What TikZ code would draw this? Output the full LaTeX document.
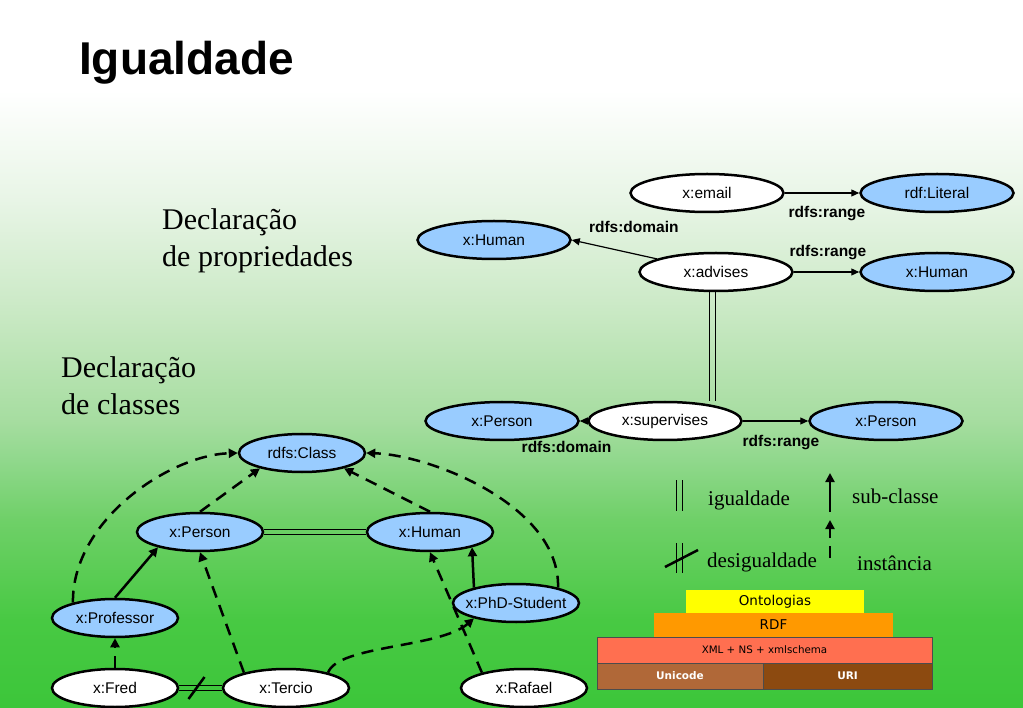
\documentclass[tikz,border=0pt]{standalone}
\usepackage{fontspec}
\setmainfont{Liberation Serif}
\setsansfont{Liberation Sans}
\newfontfamily\stackfont{DejaVu Sans}
\usetikzlibrary{calc,shapes.geometric,arrows.meta}

\definecolor{clsblue}{HTML}{99CCFF}
\definecolor{ontoyellow}{HTML}{FFFF00}
\definecolor{rdforange}{HTML}{FF9900}
\definecolor{xmlred}{HTML}{FF6F50}
\definecolor{unibrown}{HTML}{B06838}
\definecolor{uribrown}{HTML}{8C4A10}
\definecolor{bg0}{HTML}{3CC63A}
\definecolor{bg1}{HTML}{48C943}
\definecolor{bg2}{HTML}{6FD068}
\definecolor{bg3}{HTML}{90D88C}
\definecolor{bg4}{HTML}{A6DDA0}
\definecolor{bg5}{HTML}{CDEAC8}
\definecolor{bg6}{HTML}{E8F5E6}
\pgfdeclareverticalshading{slidebg}{100bp}{color(0bp)=(bg0); color(25bp)=(bg0);
  color(31.2bp)=(bg1); color(38.3bp)=(bg2); color(42.5bp)=(bg3); color(45.3bp)=(bg4);
  color(53.8bp)=(bg5); color(60.9bp)=(bg6); color(68.6bp)=(white); color(100bp)=(white)}

\begin{document}
\begin{tikzpicture}
[x=1pt,y=-1pt,
 cls/.style={ellipse,draw,line width=2.5pt,fill=clsblue,minimum width=126pt,minimum height=38pt,
   inner sep=0pt,font=\sffamily\fontsize{15.5}{18}\selectfont},
 ind/.style={cls,fill=white},
 wide/.style={minimum width=153pt},
 rel/.style={line width=1.2pt,-{Triangle[length=8pt,width=7pt]}},
 subc/.style={line width=2.5pt,-{Triangle[length=9pt,width=9pt]}},
 isa/.style={subc,dash pattern=on 12pt off 8pt},
 eqline/.style={line width=1pt},
 lab/.style={inner sep=0pt,font=\sffamily\bfseries\fontsize{15.5}{18}\selectfont},
 legend/.style={anchor=base west,inner sep=0pt,font=\fontsize{21}{25}\selectfont},
 heading/.style={anchor=base west,inner sep=0pt,align=left,font=\fontsize{30}{37}\selectfont},
 stackbox/.style={inner sep=0pt,font=\stackfont\fontsize{13.5}{16}\selectfont}]

\fill[shading=slidebg] (0,0) rectangle (1023,708);
\useasboundingbox (0,0) rectangle (1023,708);

\node (title) at (79,75) [anchor=base west,inner sep=0pt,font=\sffamily\bfseries\fontsize{46}{50}\selectfont] {Igualdade};
\node (dprop) at (162,267) [heading] {Declaração\\de propriedades};
\node (dcls) at (61,415) [heading] {Declaração\\de classes};

\node (email) at (707,193) [ind,wide] {x:email};
\node (literal) at (937,193) [cls,wide] {rdf:Literal};
\node (humanP) at (494,240) [cls,wide] {x:Human};
\node (advises) at (716,272) [ind,wide] {x:advises};
\node (humanR) at (937,272) [cls,wide] {x:Human};
\node (personP) at (502,421) [cls,wide] {x:Person};
\node (supervises) at (665,421) [ind,wide] {x:supervises};
\node (personR) at (886,421) [cls,wide] {x:Person};

\draw[rel] (email) -- (literal) node[lab,midway,xshift=5pt,yshift=-21pt]{rdfs:range};
\draw[rel] (advises) -- (humanP.east) node[lab,midway,xshift=19.5pt,yshift=22.5pt]{rdfs:domain};
\draw[rel] (advises) -- (humanR) node[lab,midway,xshift=1.5pt,yshift=19pt]{rdfs:range};
\draw[rel] (supervises) -- (personP) node[lab,midway,xshift=-17pt,yshift=-26pt]{rdfs:domain};
\draw[rel] (supervises) -- (personR) node[lab,midway,xshift=5.5pt,yshift=-22pt]{rdfs:range};
\draw[eqline] ([xshift=-7pt]advises.south) -- ([xshift=-7pt]advises.south |- supervises.north);
\draw[eqline] ([xshift=-1pt]advises.south) -- ([xshift=-1pt]advises.south |- supervises.north);

\node (classC) at (302,453) [cls] {rdfs:Class};
\node (personC) at (200,532) [cls] {x:Person};
\node (humanC) at (430,532) [cls] {x:Human};
\node (prof) at (115,618) [cls] {x:Professor};
\node (phd) at (516,603) [cls,inner xsep=-12pt] {x:PhD-Student};
\node (fred) at (115,688) [ind] {x:Fred};
\node (tercio) at (286,688) [ind] {x:Tercio};
\node (rafael) at (524,688) [ind] {x:Rafael};

\draw[eqline] ([yshift=2.2pt]personC.east) -- ([yshift=2.2pt]humanC.west);
\draw[eqline] ([yshift=-2.2pt]personC.east) -- ([yshift=-2.2pt]humanC.west);
\draw[eqline] ([yshift=2.2pt]fred.east) -- ([yshift=2.2pt]tercio.west);
\draw[eqline] ([yshift=-2.2pt]fred.east) -- ([yshift=-2.2pt]tercio.west);
\draw[line width=2.5pt] ($(fred.east)!0.5!(tercio.west)$) ++(-12,11) -- ++(16,-22);

\draw[subc] (prof.north) -- (personC.200);
\draw[subc] (phd.160) -- (humanC.340);
\draw[isa] (fred) -- (prof);
\draw[isa] (tercio.160) -- (personC.south);
\draw[isa] (tercio.20) .. controls (338,645) and (440,648) .. (phd.200);
\draw[isa] (rafael.160) -- (humanC.south);
\draw[isa] (personC.north) -- (classC.200);
\draw[isa] (humanC.north) -- (classC.340);
\draw[isa] (prof.160) .. controls (72,520) and (170,455) .. (classC.west);
\draw[isa] (phd.20) .. controls (560,505) and (430,455) .. (classC.east);

\draw[eqline] (676,480) -- (676,511);
\draw[eqline] (682,480) -- (682,511);
\draw[eqline] (676,543) -- (676,573);
\draw[eqline] (682,543) -- (682,573);
\draw[line width=2.5pt] (665,567) -- (698,550);
\coordinate (subfoot) at (830,512);
\coordinate (subhead) at (830,473);
\coordinate (isafoot) at (830,558);
\coordinate (isahead) at (830,520);
\draw[subc] (subfoot) -- (subhead);
\draw[isa] (isafoot) -- (isahead);
\node (tigual) at (708,505) [legend] {igualdade};
\node (tsub) at (852,503) [legend] {sub-classe};
\node (tdesig) at (707,567) [legend] {desigualdade};
\node (tinst) at (857,570) [legend] {instância};

\node (onto) at (775,601.5) [stackbox,fill=ontoyellow,minimum width=178pt,minimum height=23pt] {Ontologias};
\node (rdf) at (773.5,625) [stackbox,fill=rdforange,minimum width=239pt,minimum height=24pt] {RDF};
\node (xml) at (764.5,650) [stackbox,draw=black!70,line width=0.7pt,fill=xmlred,minimum width=335pt,minimum height=26pt,
  font=\stackfont\fontsize{10.3}{12}\selectfont] {XML + NS + xmlschema};
\node (unicode) at (680,676) [stackbox,draw=black!70,line width=0.7pt,fill=unibrown,minimum width=166pt,minimum height=26pt,
  text=white,font=\stackfont\bfseries\fontsize{10.5}{12}\selectfont] {Unicode};
\node (uri) at (847.5,676) [stackbox,draw=black!70,line width=0.7pt,fill=uribrown,minimum width=169pt,minimum height=26pt,
  text=white,font=\stackfont\bfseries\fontsize{10.5}{12}\selectfont] {URI};
\end{tikzpicture}
\end{document}
